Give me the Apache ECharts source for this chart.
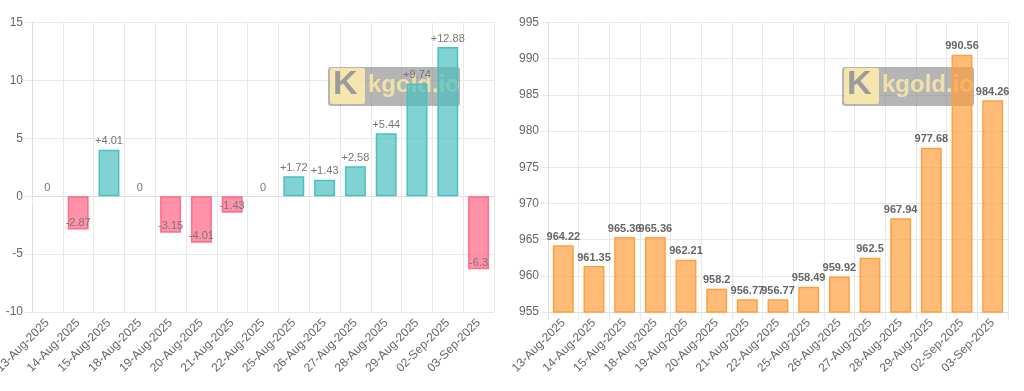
<!DOCTYPE html>
<html>
<head>
<meta charset="utf-8">
<script src="https://cdn.jsdelivr.net/npm/echarts@6/dist/echarts.min.js"></script>
<style>
html,body{margin:0;padding:0;background:#fff;}
#c{width:1024px;height:391px;}
</style>
</head>
<body>
<div id="c"></div>
<script>
const categories = ['13-Aug-2025','14-Aug-2025','15-Aug-2025','18-Aug-2025','19-Aug-2025','20-Aug-2025','21-Aug-2025','22-Aug-2025','25-Aug-2025','26-Aug-2025','27-Aug-2025','28-Aug-2025','29-Aug-2025','02-Sep-2025','03-Sep-2025'];
const changes = [0, -2.87, 4.01, 0, -3.15, -4.01, -1.43, 0, 1.72, 1.43, 2.58, 5.44, 9.74, 12.88, -6.3];
const prices = [964.22, 961.35, 965.36, 965.36, 962.21, 958.2, 956.77, 956.77, 958.49, 959.92, 962.5, 967.94, 977.68, 990.56, 984.26];
const changeTicks = {min: -10, max: 15, interval: 5};
const priceTicks = {min: 955, max: 995, interval: 5};

const FONT = 'Liberation Sans, Arial, Helvetica, sans-serif';
const gridColor = '#e8e8e8';
const axisColor = '#dcdcdc';

const chart = echarts.init(document.getElementById('c'), null, {renderer: 'canvas'});

const changeData = changes.map(v => {
  const neg = v < 0;
  return {
    value: v,
    itemStyle: {
      color: neg ? 'rgba(255,99,132,0.7)' : 'rgba(75,192,192,0.7)',
      borderColor: neg ? 'rgba(255,99,132,0.9)' : 'rgb(75,192,192)',
      borderWidth: v === 0 ? 0 : 1.5
    },
    label: {
      position: neg ? 'insideBottom' : 'top',
      distance: neg ? 1 : 3
    }
  };
});

function wm(x, y) {
  return [
    {type: 'rect', left: x, top: y, z: 1, shape: {width: 132, height: 39, r: 3}, style: {fill: 'rgba(120,120,120,0.55)'}},
    {type: 'rect', left: x + 2, top: y + 1, z: 1, shape: {width: 35, height: 36, r: 2}, style: {fill: 'rgba(255,238,170,0.85)'}},
    {type: 'text', left: x + 5, top: y + 1, z: 1, style: {text: 'K', fill: 'rgba(155,155,155,1)', font: 'bold 34px ' + FONT}},
    {type: 'text', left: x + 40, top: y + 6, z: 1, style: {text: 'kgold.io', fill: 'rgba(255,236,165,0.8)', font: 'bold 24px ' + FONT}}
  ];
}

function xAxis(gi) {
  return {
    type: 'category', gridIndex: gi, data: categories,
    axisLine: {show: true, lineStyle: {color: axisColor}},
    axisTick: {show: true, length: 8, lineStyle: {color: gridColor}},
    splitLine: {show: true, lineStyle: {color: gridColor}},
    axisLabel: {interval: 0, rotate: 45, margin: 9, color: '#666', fontSize: 12, fontFamily: FONT}
  };
}
function yAxis(gi, t) {
  return {
    type: 'value', gridIndex: gi, min: t.min, max: t.max, interval: t.interval,
    axisLine: {show: true, lineStyle: {color: axisColor}},
    axisTick: {show: true, length: 7, lineStyle: {color: gridColor}},
    splitLine: {show: true, lineStyle: {color: gridColor}},
    axisLabel: {margin: 9, color: '#666', fontSize: 12, fontFamily: FONT}
  };
}

chart.setOption({
  animation: false,
  grid: [
    {left: 32, right: 530, top: 22.5, bottom: 79, containLabel: false, outerBoundsMode: 'none'},
    {left: 548, right: 16, top: 22.5, bottom: 79, containLabel: false, outerBoundsMode: 'none'}
  ],
  xAxis: [xAxis(0), xAxis(1)],
  yAxis: [yAxis(0, changeTicks), yAxis(1, priceTicks)],
  graphic: wm(328, 67).concat(wm(842, 67)),
  series: [
    {
      type: 'bar', xAxisIndex: 0, yAxisIndex: 0, z: 2,
      data: changeData,
      barCategoryGap: '32%',
      label: {
        show: true, color: '#777', fontSize: 11, fontFamily: FONT,
        formatter: p => (p.value > 0 ? '+' + p.value : String(p.value))
      }
    },
    {
      type: 'bar', xAxisIndex: 1, yAxisIndex: 1, z: 2,
      data: prices,
      barCategoryGap: '32%',
      itemStyle: {color: 'rgba(255,159,64,0.7)', borderColor: 'rgb(255,159,64)', borderWidth: 1.5},
      label: {show: true, position: 'top', distance: 3, color: '#666', fontSize: 11, fontWeight: 'bold', fontFamily: FONT}
    }
  ]
});
</script>
</body>
</html>
